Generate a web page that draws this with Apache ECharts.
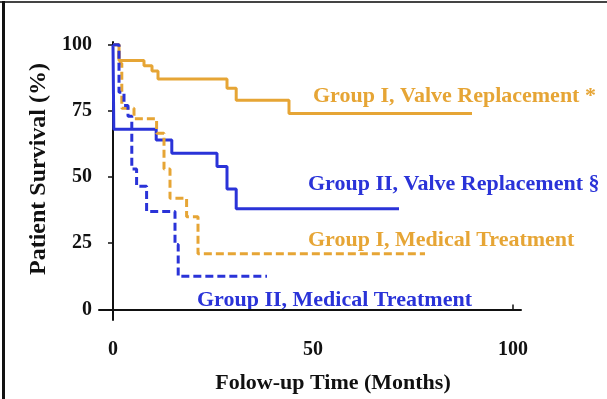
<!DOCTYPE html>
<html>
<head>
<meta charset="utf-8">
<script src="https://cdn.jsdelivr.net/npm/echarts@6/dist/echarts.min.js"></script>
<style>
html,body{margin:0;padding:0;background:#fff;}
#chart{width:607px;height:399px;}
</style>
</head>
<body>
<div id="chart"></div>
<script>
// Kaplan-Meier curves (time in months, survival in %)
const g1ValveTimes = [0, 1.5, 7.75, 9.75, 11.25, 28.5, 30.8, 44, 89.75];
const g1ValveSurv  = [100, 94, 92, 90, 87, 83.5, 79, 74, 74];

const g2ValveTimes = [0, 0.2, 10.8, 14.7, 26, 28.5, 30.8, 71.5];
const g2ValveSurv  = [100, 68, 64, 59, 54, 45.5, 38, 38];

const g1MedTimes = [0, 1.5, 2.2, 5.25, 10.9, 12.75, 14.25, 18.4, 21.25, 78];
const g1MedSurv  = [100, 93, 76, 72, 66.5, 53, 42, 35, 21, 21];

const g2MedTimes = [0, 1.5, 2.75, 3.75, 4.7, 5.9, 8.4, 15.5, 16.3, 38.5];
const g2MedSurv  = [100, 82, 77, 73, 53, 46.5, 37, 24.5, 12.5, 12.5];

const xTicks = [0, 50, 100];
const yTicks = [0, 25, 50, 75, 100];

const seriesNames = [
  'Group I, Valve Replacement *',
  'Group II, Valve Replacement §',
  'Group I, Medical Treatment',
  'Group II, Medical Treatment'
];

const ORANGE = '#E6A535';
const BLUE = '#2A33D8';
const FONT = '"Liberation Serif", "Times New Roman", serif';

function pts(t, v) { return t.map((x, i) => [x, v[i]]); }

const chart = echarts.init(document.getElementById('chart'), null, {renderer: 'canvas'});

function mkSeries(name, t, v, color, dashed) {
  return {
    name: name,
    type: 'line',
    step: 'end',
    data: pts(t, v),
    showSymbol: false,
    symbol: 'none',
    lineStyle: {color: color, width: 3, type: dashed ? [8, 4] : 'solid'},
    itemStyle: {color: color},
    animation: false
  };
}

const annoFont = 'bold 22px ' + FONT;

chart.setOption({
  animation: false,
  backgroundColor: '#ffffff',
  grid: {left: 99, right: 86, top: 42, bottom: 76},
  xAxis: {
    type: 'value',
    min: -3.5, max: 102,
    name: 'Folow-up Time (Months)',
    nameLocation: 'middle',
    nameGap: 52,
    nameTextStyle: {fontFamily: FONT, fontWeight: 'bold', fontSize: 22, color: '#111', padding: [0, 0, 0, 46]},
    axisLine: {show: true, lineStyle: {color: '#111', width: 2}},
    axisTick: {show: true, inside: true, length: 5, customValues: [100], lineStyle: {color: '#111', width: 1.5}},
    axisLabel: {customValues: xTicks, fontFamily: FONT, fontWeight: 'bold', fontSize: 20, color: '#111', margin: 20},
    splitLine: {show: false}
  },
  yAxis: {
    type: 'value',
    min: -4, max: 101,
    name: 'Patient Survival (%)',
    nameLocation: 'middle',
    nameGap: 47,
    nameTextStyle: {fontFamily: FONT, fontWeight: 'bold', fontSize: 24, color: '#111', padding: [0, 0, 0, 24]},
    axisLine: {show: true, lineStyle: {color: '#111', width: 2}},
    axisTick: {show: true, length: 5, customValues: yTicks, lineStyle: {color: '#111', width: 1.5}},
    axisLabel: {customValues: yTicks, fontFamily: FONT, fontWeight: 'bold', fontSize: 20, color: '#111', margin: 7},
    splitLine: {show: false}
  },
  series: [
    mkSeries(seriesNames[0], g1ValveTimes, g1ValveSurv, ORANGE, false),
    mkSeries(seriesNames[1], g2ValveTimes, g2ValveSurv, BLUE, false),
    mkSeries(seriesNames[2], g1MedTimes, g1MedSurv, ORANGE, true),
    mkSeries(seriesNames[3], g2MedTimes, g2MedSurv, BLUE, true)
  ],
  graphic: [
    {type: 'rect', shape: {x: 0, y: 1, width: 607, height: 2}, style: {fill: '#444'}, silent: true},
    {type: 'rect', shape: {x: 2, y: 1, width: 3, height: 398}, style: {fill: '#111'}, silent: true},
    {type: 'text', x: 313, y: 96, style: {text: seriesNames[0], fill: ORANGE, font: annoFont, align: 'left', verticalAlign: 'middle'}},
    {type: 'text', x: 308, y: 184, style: {text: seriesNames[1], fill: BLUE, font: annoFont, align: 'left', verticalAlign: 'middle'}},
    {type: 'text', x: 308, y: 240, style: {text: seriesNames[2], fill: ORANGE, font: annoFont, align: 'left', verticalAlign: 'middle'}},
    {type: 'text', x: 197, y: 300, style: {text: seriesNames[3], fill: BLUE, font: annoFont, align: 'left', verticalAlign: 'middle'}}
  ]
});
</script>
</body>
</html>
